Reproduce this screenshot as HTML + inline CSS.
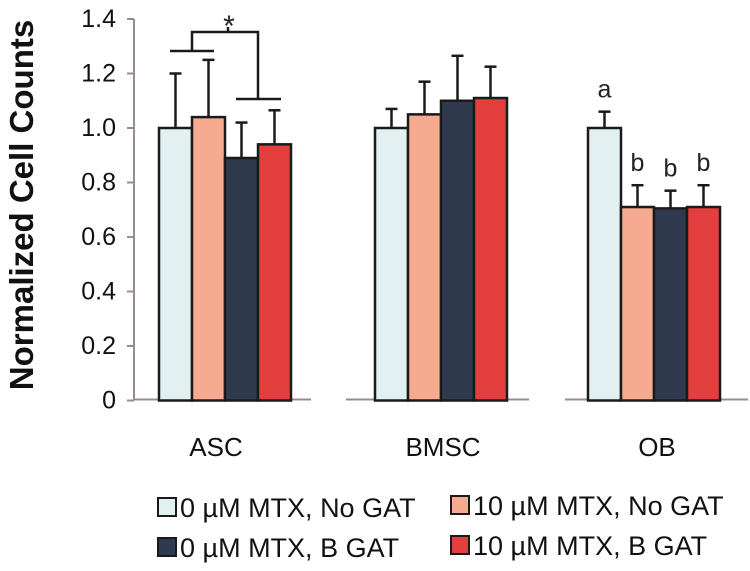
<!DOCTYPE html>
<html><head><meta charset="utf-8"><style>
body{margin:0;background:#fff;}
svg{display:block;font-family:"Liberation Sans",Arial,sans-serif;}
</style></head><body>
<svg id="chart" width="750" height="571" viewBox="0 0 750 571"></svg>
<script>
const groups=["ASC","BMSC","OB"];
const seriesNames=["0 µM MTX, No GAT","10 µM MTX, No GAT","0 µM MTX, B GAT","10 µM MTX, B GAT"];
const meanASC=[1.0,1.04,0.89,0.94];
const meanBMSC=[1.0,1.05,1.10,1.11];
const meanOB=[1.0,0.71,0.705,0.71];
const errTopASC=[1.20,1.25,1.02,1.065];
const errTopBMSC=[1.07,1.17,1.265,1.225];
const errTopOB=[1.06,0.79,0.77,0.79];
const letterOB=["a","b","b","b"];
const yTicks=[0,0.2,0.4,0.6,0.8,1.0,1.2,1.4];
const yTickLabels=["0","0.2","0.4","0.6","0.8","1.0","1.2","1.4"];

const colors=["#e3f0f1","#f6aa90","#2f3a4f","#e43f3f"];
const svg=document.getElementById('chart');
const NS="http://www.w3.org/2000/svg";
function mk(t,a,p){const e=document.createElementNS(NS,t);for(const k in a)e.setAttribute(k,a[k]);(p||svg).appendChild(e);return e;}
const y0=400.5, unit=272.5;
function yS(v){return y0-v*unit;}
const groupStart=[159,375,588], barW=33;
function xS(g,i){return groupStart[g]+i*barW;}
const means=[meanASC,meanBMSC,meanOB], errs=[errTopASC,errTopBMSC,errTopOB];

// y axis
let ax=mk('line',{x1:134,y1:yS(1.4),x2:134,y2:yS(0),stroke:'#9b8b87','stroke-width':2});

yTicks.forEach((v,i)=>{
  let t=mk('line',{x1:127,y1:yS(v),x2:134,y2:yS(v),stroke:'#9b8b87','stroke-width':2});
  
  let l=mk('text',{x:116,y:yS(v)+8,'text-anchor':'end','font-size':25,fill:'#111'});
  l.textContent=yTickLabels[i];
  
});
let yt=mk('text',{x:0,y:0,transform:'translate(33,205) rotate(-90)','text-anchor':'middle','font-size':33,'font-weight':'bold',fill:'#111'});
yt.textContent="Normalized Cell Counts";


// x axis segments
const segs=[[134,311],[346,529],[565,748]];
const labelX=[216,443,657];
segs.forEach((s,g)=>{
  let l=mk('line',{x1:s[0],y1:399.5,x2:s[1],y2:399.5,stroke:'#9b8b87','stroke-width':2});
  
  let t=mk('text',{x:labelX[g],y:456,'text-anchor':'middle','font-size':26,fill:'#111'});
  t.textContent=groups[g];
  
});

// bars
means.forEach((arr,g)=>{
  arr.forEach((v,i)=>{
    const x=xS(g,i), cx=x+barW/2;
    let e=mk('line',{x1:cx,y1:yS(errs[g][i]),x2:cx,y2:yS(v),stroke:'#1a1a1a','stroke-width':2.5});
    
    let c=mk('line',{x1:cx-6,y1:yS(errs[g][i]),x2:cx+6,y2:yS(errs[g][i]),stroke:'#1a1a1a','stroke-width':2.5});
    
    let r=mk('rect',{x:x,y:yS(v),width:barW,height:yS(0)-yS(v),fill:colors[i],stroke:'#1a1a1a','stroke-width':2.5});
    
  });
});
// OB letters
letterOB.forEach((s,i)=>{
  const cx=xS(2,i)+barW/2;
  let t=mk('text',{x:cx,y:yS(errTopOB[i])-14,'text-anchor':'middle','font-size':25,fill:'#222'});
  t.textContent=s;
  
});
// significance bracket ASC
const br=mk('g',{stroke:'#1a1a1a','stroke-width':2.5,fill:'none'});

mk('path',{d:'M170 51 H214 M236 99 H281 M192 51 V32 H258 V99 M228 32 V27'},br);
let st=mk('text',{x:229,y:36,'text-anchor':'middle','font-size':30,fill:'#222'});
st.textContent="*";


// legend
const legPos=[[158,507],[451,505],[158,547],[451,545]];
const legOrder=[0,1,2,3];
legOrder.forEach((i,k)=>{
  const [x,y]=legPos[k];
  const g=mk('g',{});
  
  mk('rect',{x:x,y:y-9,width:18,height:18,fill:colors[i],stroke:'#1a1a1a','stroke-width':2},g);
  let t=mk('text',{x:x+22,y:y+10,'font-size':27,fill:'#111'},g);
  t.textContent=seriesNames[i];
});
</script>
</body></html>
